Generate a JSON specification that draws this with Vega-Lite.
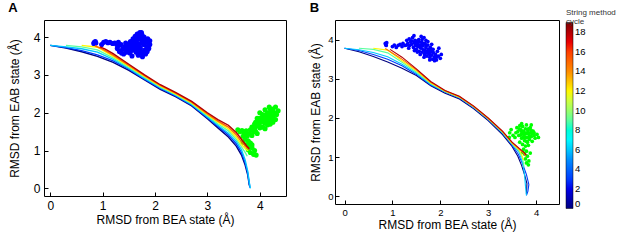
{
"$schema":"https://vega.github.io/schema/vega-lite/v6.json",
"padding":{"left":7,"top":1,"right":1,"bottom":2},
"config":{"font":"Liberation Sans","view":{"stroke":"#000","strokeWidth":1},
"axis":{"grid":false,"domain":false,"format":"~g","tickColor":"#000","tickSize":-4,"labelColor":"#000","titleColor":"#000","titleFontWeight":"normal","titleFontSize":12,"labelFontSize":12,"labelPadding":8},
"title":{"anchor":"start","fontSize":13,"fontWeight":"bold","offset":5,"frame":"bounds","color":"#000"},
"concat":{"spacing":22}},
"datasets":{
"linesA":[
{"c":0,"i":0,"x":0,"y":3.78},{"c":0,"i":1,"x":0.3,"y":3.71},{"c":0,"i":2,"x":0.6,"y":3.61},{"c":0,"i":3,"x":0.9,"y":3.49},{"c":0,"i":4,"x":1.2,"y":3.33},{"c":0,"i":5,"x":1.5,"y":3.12},{"c":0,"i":6,"x":1.8,"y":2.87},{"c":0,"i":7,"x":2.1,"y":2.62},{"c":0,"i":8,"x":2.4,"y":2.42},{"c":0,"i":9,"x":2.7,"y":2.18},{"c":0,"i":10,"x":3.0,"y":1.84},{"c":0,"i":11,"x":3.2,"y":1.6},{"c":0,"i":12,"x":3.4,"y":1.36},{"c":0,"i":13,"x":3.55,"y":1.12},{"c":0,"i":14,"x":3.65,"y":0.88},{"c":0,"i":15,"x":3.72,"y":0.62},{"c":0,"i":16,"x":3.77,"y":0.35},{"c":0,"i":17,"x":3.8,"y":0.08},
{"c":3,"i":0,"x":0,"y":3.78},{"c":3,"i":1,"x":0.3,"y":3.72},{"c":3,"i":2,"x":0.6,"y":3.64},{"c":3,"i":3,"x":0.9,"y":3.53},{"c":3,"i":4,"x":1.2,"y":3.37},{"c":3,"i":5,"x":1.5,"y":3.15},{"c":3,"i":6,"x":1.8,"y":2.89},{"c":3,"i":7,"x":2.1,"y":2.64},{"c":3,"i":8,"x":2.4,"y":2.44},{"c":3,"i":9,"x":2.7,"y":2.2},{"c":3,"i":10,"x":3.0,"y":1.87},{"c":3,"i":11,"x":3.2,"y":1.64},{"c":3,"i":12,"x":3.4,"y":1.41},{"c":3,"i":13,"x":3.55,"y":1.18},{"c":3,"i":14,"x":3.65,"y":0.95},{"c":3,"i":15,"x":3.72,"y":0.68},{"c":3,"i":16,"x":3.77,"y":0.4},{"c":3,"i":17,"x":3.8,"y":0.12},{"c":3,"i":18,"x":3.81,"y":0.02},
{"c":6,"i":0,"x":0,"y":3.78},{"c":6,"i":1,"x":0.3,"y":3.74},{"c":6,"i":2,"x":0.6,"y":3.69},{"c":6,"i":3,"x":0.9,"y":3.6},{"c":6,"i":4,"x":1.2,"y":3.41},{"c":6,"i":5,"x":1.5,"y":3.17},{"c":6,"i":6,"x":1.8,"y":2.91},{"c":6,"i":7,"x":2.1,"y":2.66},{"c":6,"i":8,"x":2.4,"y":2.46},{"c":6,"i":9,"x":2.7,"y":2.22},{"c":6,"i":10,"x":3.0,"y":1.89},{"c":6,"i":11,"x":3.2,"y":1.67},{"c":6,"i":12,"x":3.4,"y":1.46},{"c":6,"i":13,"x":3.55,"y":1.24},{"c":6,"i":14,"x":3.65,"y":1.02},{"c":6,"i":15,"x":3.72,"y":0.75},{"c":6,"i":16,"x":3.77,"y":0.45},{"c":6,"i":17,"x":3.8,"y":0.15},{"c":6,"i":18,"x":3.82,"y":0.0},
{"c":9,"i":0,"x":0.3,"y":3.78},{"c":9,"i":1,"x":0.6,"y":3.74},{"c":9,"i":2,"x":0.9,"y":3.66},{"c":9,"i":3,"x":1.2,"y":3.45},{"c":9,"i":4,"x":1.5,"y":3.2},{"c":9,"i":5,"x":1.8,"y":2.94},{"c":9,"i":6,"x":2.1,"y":2.68},{"c":9,"i":7,"x":2.4,"y":2.48},{"c":9,"i":8,"x":2.7,"y":2.24},{"c":9,"i":9,"x":3.0,"y":1.92},{"c":9,"i":10,"x":3.2,"y":1.71},{"c":9,"i":11,"x":3.4,"y":1.52},{"c":9,"i":12,"x":3.55,"y":1.3},{"c":9,"i":13,"x":3.65,"y":1.1},{"c":9,"i":14,"x":3.72,"y":0.95},{"c":9,"i":15,"x":3.76,"y":0.85},
{"c":12,"i":0,"x":0.6,"y":3.78},{"c":12,"i":1,"x":0.9,"y":3.73},{"c":12,"i":2,"x":1.2,"y":3.49},{"c":12,"i":3,"x":1.5,"y":3.23},{"c":12,"i":4,"x":1.8,"y":2.96},{"c":12,"i":5,"x":2.1,"y":2.7},{"c":12,"i":6,"x":2.4,"y":2.49},{"c":12,"i":7,"x":2.7,"y":2.26},{"c":12,"i":8,"x":3.0,"y":1.95},{"c":12,"i":9,"x":3.2,"y":1.75},{"c":12,"i":10,"x":3.4,"y":1.57},{"c":12,"i":11,"x":3.55,"y":1.36},{"c":12,"i":12,"x":3.65,"y":1.16},{"c":12,"i":13,"x":3.75,"y":1.02},{"c":12,"i":14,"x":3.78,"y":1.0},
{"c":15,"i":0,"x":0.85,"y":3.77},{"c":15,"i":1,"x":1.0,"y":3.68},{"c":15,"i":2,"x":1.2,"y":3.52},{"c":15,"i":3,"x":1.5,"y":3.25},{"c":15,"i":4,"x":1.8,"y":2.98},{"c":15,"i":5,"x":2.1,"y":2.72},{"c":15,"i":6,"x":2.4,"y":2.51},{"c":15,"i":7,"x":2.7,"y":2.28},{"c":15,"i":8,"x":3.0,"y":1.97},{"c":15,"i":9,"x":3.2,"y":1.78},{"c":15,"i":10,"x":3.4,"y":1.62},{"c":15,"i":11,"x":3.55,"y":1.42},{"c":15,"i":12,"x":3.65,"y":1.23},{"c":15,"i":13,"x":3.75,"y":1.08},{"c":15,"i":14,"x":3.8,"y":1.03},
{"c":18,"i":0,"x":0.95,"y":3.74},{"c":18,"i":1,"x":1.05,"y":3.68},{"c":18,"i":2,"x":1.2,"y":3.56},{"c":18,"i":3,"x":1.5,"y":3.28},{"c":18,"i":4,"x":1.8,"y":3.0},{"c":18,"i":5,"x":2.1,"y":2.74},{"c":18,"i":6,"x":2.4,"y":2.53},{"c":18,"i":7,"x":2.7,"y":2.3},{"c":18,"i":8,"x":3.0,"y":2.0},{"c":18,"i":9,"x":3.2,"y":1.82},{"c":18,"i":10,"x":3.4,"y":1.67},{"c":18,"i":11,"x":3.55,"y":1.48},{"c":18,"i":12,"x":3.65,"y":1.3},{"c":18,"i":13,"x":3.75,"y":1.12},{"c":18,"i":14,"x":3.8,"y":1.05}
],
"linesB":[
{"c":0,"i":0,"x":0,"y":3.78},{"c":0,"i":1,"x":0.3,"y":3.69},{"c":0,"i":2,"x":0.6,"y":3.57},{"c":0,"i":3,"x":0.9,"y":3.43},{"c":0,"i":4,"x":1.2,"y":3.27},{"c":0,"i":5,"x":1.5,"y":3.08},{"c":0,"i":6,"x":1.8,"y":2.82},{"c":0,"i":7,"x":2.1,"y":2.63},{"c":0,"i":8,"x":2.4,"y":2.48},{"c":0,"i":9,"x":2.7,"y":2.23},{"c":0,"i":10,"x":3.0,"y":1.93},{"c":0,"i":11,"x":3.3,"y":1.57},{"c":0,"i":12,"x":3.5,"y":1.27},{"c":0,"i":13,"x":3.62,"y":1.02},{"c":0,"i":14,"x":3.7,"y":0.78},{"c":0,"i":15,"x":3.76,"y":0.55},{"c":0,"i":16,"x":3.81,"y":0.32},{"c":0,"i":17,"x":3.8,"y":0.05},
{"c":3,"i":0,"x":0,"y":3.78},{"c":3,"i":1,"x":0.3,"y":3.72},{"c":3,"i":2,"x":0.6,"y":3.62},{"c":3,"i":3,"x":0.9,"y":3.5},{"c":3,"i":4,"x":1.2,"y":3.33},{"c":3,"i":5,"x":1.5,"y":3.11},{"c":3,"i":6,"x":1.8,"y":2.84},{"c":3,"i":7,"x":2.1,"y":2.66},{"c":3,"i":8,"x":2.4,"y":2.51},{"c":3,"i":9,"x":2.7,"y":2.26},{"c":3,"i":10,"x":3.0,"y":1.96},{"c":3,"i":11,"x":3.3,"y":1.61},{"c":3,"i":12,"x":3.5,"y":1.3},{"c":3,"i":13,"x":3.63,"y":1.07},{"c":3,"i":14,"x":3.72,"y":0.82},{"c":3,"i":15,"x":3.8,"y":0.55},{"c":3,"i":16,"x":3.85,"y":0.3},{"c":3,"i":17,"x":3.83,"y":0.12},{"c":3,"i":18,"x":3.8,"y":0.02},
{"c":6,"i":0,"x":0,"y":3.78},{"c":6,"i":1,"x":0.3,"y":3.74},{"c":6,"i":2,"x":0.6,"y":3.67},{"c":6,"i":3,"x":0.9,"y":3.56},{"c":6,"i":4,"x":1.2,"y":3.37},{"c":6,"i":5,"x":1.5,"y":3.14},{"c":6,"i":6,"x":1.8,"y":2.86},{"c":6,"i":7,"x":2.1,"y":2.67},{"c":6,"i":8,"x":2.4,"y":2.52},{"c":6,"i":9,"x":2.7,"y":2.27},{"c":6,"i":10,"x":3.0,"y":1.97},{"c":6,"i":11,"x":3.3,"y":1.62},{"c":6,"i":12,"x":3.5,"y":1.33},{"c":6,"i":13,"x":3.65,"y":1.11},{"c":6,"i":14,"x":3.72,"y":0.85},{"c":6,"i":15,"x":3.76,"y":0.55},{"c":6,"i":16,"x":3.78,"y":0.25},{"c":6,"i":17,"x":3.8,"y":0.02},
{"c":9,"i":0,"x":0.3,"y":3.78},{"c":9,"i":1,"x":0.6,"y":3.75},{"c":9,"i":2,"x":0.9,"y":3.66},{"c":9,"i":3,"x":1.2,"y":3.42},{"c":9,"i":4,"x":1.5,"y":3.17},{"c":9,"i":5,"x":1.8,"y":2.88},{"c":9,"i":6,"x":2.1,"y":2.68},{"c":9,"i":7,"x":2.4,"y":2.53},{"c":9,"i":8,"x":2.7,"y":2.28},{"c":9,"i":9,"x":3.0,"y":1.98},{"c":9,"i":10,"x":3.3,"y":1.63},{"c":9,"i":11,"x":3.5,"y":1.34},{"c":9,"i":12,"x":3.65,"y":1.15},{"c":9,"i":13,"x":3.72,"y":0.95},{"c":9,"i":14,"x":3.75,"y":0.75},
{"c":12,"i":0,"x":0.6,"y":3.78},{"c":12,"i":1,"x":0.9,"y":3.73},{"c":12,"i":2,"x":1.2,"y":3.46},{"c":12,"i":3,"x":1.5,"y":3.2},{"c":12,"i":4,"x":1.8,"y":2.89},{"c":12,"i":5,"x":2.1,"y":2.68},{"c":12,"i":6,"x":2.4,"y":2.53},{"c":12,"i":7,"x":2.7,"y":2.28},{"c":12,"i":8,"x":3.0,"y":1.98},{"c":12,"i":9,"x":3.3,"y":1.64},{"c":12,"i":10,"x":3.5,"y":1.35},{"c":12,"i":11,"x":3.65,"y":1.18},{"c":12,"i":12,"x":3.72,"y":1.0},{"c":12,"i":13,"x":3.74,"y":0.92},
{"c":15,"i":0,"x":0.85,"y":3.77},{"c":15,"i":1,"x":1.2,"y":3.5},{"c":15,"i":2,"x":1.5,"y":3.23},{"c":15,"i":3,"x":1.8,"y":2.91},{"c":15,"i":4,"x":2.1,"y":2.69},{"c":15,"i":5,"x":2.4,"y":2.54},{"c":15,"i":6,"x":2.7,"y":2.29},{"c":15,"i":7,"x":3.0,"y":1.99},{"c":15,"i":8,"x":3.3,"y":1.65},{"c":15,"i":9,"x":3.5,"y":1.37},{"c":15,"i":10,"x":3.65,"y":1.2},{"c":15,"i":11,"x":3.75,"y":1.08},{"c":15,"i":12,"x":3.78,"y":1.02},
{"c":18,"i":0,"x":0.95,"y":3.75},{"c":18,"i":1,"x":1.2,"y":3.55},{"c":18,"i":2,"x":1.5,"y":3.25},{"c":18,"i":3,"x":1.8,"y":2.93},{"c":18,"i":4,"x":2.1,"y":2.7},{"c":18,"i":5,"x":2.4,"y":2.55},{"c":18,"i":6,"x":2.7,"y":2.3},{"c":18,"i":7,"x":3.0,"y":2.0},{"c":18,"i":8,"x":3.3,"y":1.66},{"c":18,"i":9,"x":3.5,"y":1.38},{"c":18,"i":10,"x":3.65,"y":1.22},{"c":18,"i":11,"x":3.75,"y":1.12},{"c":18,"i":12,"x":3.8,"y":1.05}
],
"blueA":[
{"x":0.84,"y":3.86},{"x":0.87,"y":3.84},{"x":0.86,"y":3.88},{"x":0.83,"y":3.83},
{"x":0.98,"y":3.8},{"x":1.02,"y":3.86},{"x":1.06,"y":3.88},{"x":1.1,"y":3.85},{"x":1.14,"y":3.86},{"x":1.19,"y":3.83},{"x":1.23,"y":3.84},{"x":1.27,"y":3.8},{"x":1.31,"y":3.78},
{"x":1.28,"y":3.7},{"x":1.32,"y":3.62},{"x":1.36,"y":3.58},{"x":1.4,"y":3.55},{"x":1.45,"y":3.6},{"x":1.38,"y":3.68},{"x":1.42,"y":3.74},{"x":1.47,"y":3.66},{"x":1.5,"y":3.72},{"x":1.52,"y":3.58},{"x":1.55,"y":3.8},{"x":1.58,"y":3.66},{"x":1.6,"y":3.88},{"x":1.62,"y":3.75},{"x":1.64,"y":3.6},{"x":1.66,"y":3.95},{"x":1.68,"y":3.82},{"x":1.7,"y":4.05},{"x":1.71,"y":4.12},{"x":1.72,"y":3.7},{"x":1.74,"y":3.92},{"x":1.76,"y":3.55},{"x":1.78,"y":3.8},{"x":1.79,"y":4.0},{"x":1.8,"y":3.65},{"x":1.82,"y":3.88},{"x":1.84,"y":3.75},{"x":1.86,"y":3.95},{"x":1.87,"y":3.85},{"x":1.88,"y":3.7},{"x":1.76,"y":3.48},{"x":1.7,"y":3.62},{"x":1.65,"y":3.85},{"x":1.58,"y":3.95},{"x":1.53,"y":3.88},{"x":1.48,"y":3.8},{"x":1.44,"y":3.84},{"x":1.62,"y":4.02},{"x":1.75,"y":4.06},{"x":1.9,"y":3.8},{"x":1.85,"y":3.62},{"x":1.68,"y":3.52},{"x":1.56,"y":3.5},{"x":1.3,"y":3.86},{"x":1.35,"y":3.8},
{"x":1.45,"y":3.7},{"x":1.55,"y":3.65},{"x":1.6,"y":3.7},{"x":1.65,"y":3.68},{"x":1.7,"y":3.75},{"x":1.75,"y":3.85},{"x":1.8,"y":3.9},{"x":1.72,"y":3.98},{"x":1.68,"y":4.0},{"x":1.62,"y":3.8},{"x":1.56,"y":3.74},{"x":1.5,"y":3.64},{"x":1.85,"y":3.7},{"x":1.82,"y":3.55},{"x":1.78,"y":3.6},{"x":1.9,"y":3.9},{"x":1.66,"y":4.08},{"x":1.74,"y":4.12}
],
"greenA":[
{"x":4.3,"y":2.15},{"x":4.25,"y":2.1},{"x":4.22,"y":2.05},{"x":4.28,"y":2.0},{"x":4.2,"y":1.95},{"x":4.15,"y":2.0},{"x":4.1,"y":2.08},{"x":4.12,"y":1.9},{"x":4.18,"y":1.85},{"x":4.25,"y":1.9},{"x":4.05,"y":1.95},{"x":4.08,"y":1.82},{"x":4.0,"y":1.85},{"x":4.02,"y":1.75},{"x":3.98,"y":1.7},{"x":4.1,"y":1.72},{"x":4.15,"y":1.78},{"x":3.95,"y":1.65},{"x":3.92,"y":1.75},{"x":4.05,"y":1.62},{"x":3.9,"y":1.58},{"x":3.85,"y":1.62},{"x":3.88,"y":1.5},{"x":3.82,"y":1.55},{"x":3.8,"y":1.45},{"x":4.2,"y":1.7},{"x":4.3,"y":1.82},{"x":4.35,"y":2.05},{"x":4.0,"y":2.0},{"x":3.95,"y":1.85},
{"x":3.9,"y":1.7},{"x":4.0,"y":1.6},{"x":4.05,"y":1.8},{"x":4.12,"y":1.95},{"x":4.2,"y":2.1},{"x":4.18,"y":2.15},{"x":4.25,"y":1.75},{"x":4.15,"y":1.68},{"x":3.85,"y":1.4},{"x":3.95,"y":1.45},{"x":4.08,"y":1.88},{"x":4.22,"y":1.82},{"x":4.32,"y":1.95},{"x":3.98,"y":1.78},{"x":4.1,"y":1.58},{"x":3.92,"y":1.5},
{"x":3.58,"y":1.55},{"x":3.62,"y":1.5},{"x":3.66,"y":1.53},{"x":3.7,"y":1.48},{"x":3.74,"y":1.52},{"x":3.72,"y":1.42},{"x":3.68,"y":1.38},{"x":3.76,"y":1.38},
{"x":3.72,"y":1.3},{"x":3.78,"y":1.25},{"x":3.82,"y":1.2},{"x":3.75,"y":1.15},{"x":3.8,"y":1.1},{"x":3.85,"y":1.08},{"x":3.78,"y":1.02},{"x":3.9,"y":1.0},{"x":3.82,"y":0.95},{"x":3.88,"y":0.9},{"x":3.93,"y":0.88},{"x":3.85,"y":1.15},{"x":3.68,"y":1.22}
],
"blueB":[
{"x":0.85,"y":3.9},{"x":0.87,"y":3.85},{"x":0.88,"y":3.92},{"x":0.86,"y":3.87},
{"x":1.0,"y":3.82},{"x":1.04,"y":3.86},{"x":1.08,"y":3.8},{"x":1.12,"y":3.85},{"x":1.16,"y":3.88},{"x":1.2,"y":3.82},{"x":1.22,"y":3.9},{"x":1.26,"y":3.85},
{"x":1.3,"y":3.98},{"x":1.32,"y":3.9},{"x":1.35,"y":4.02},{"x":1.36,"y":3.85},{"x":1.38,"y":3.95},{"x":1.4,"y":3.88},{"x":1.42,"y":4.05},{"x":1.44,"y":3.8},{"x":1.45,"y":3.92},{"x":1.47,"y":3.98},{"x":1.48,"y":3.85},{"x":1.5,"y":3.75},{"x":1.52,"y":3.9},{"x":1.53,"y":3.82},{"x":1.55,"y":4.0},{"x":1.56,"y":3.7},{"x":1.58,"y":3.86},{"x":1.6,"y":3.78},{"x":1.61,"y":3.93},{"x":1.62,"y":3.68},{"x":1.64,"y":3.84},{"x":1.65,"y":3.74},{"x":1.66,"y":4.05},{"x":1.67,"y":3.62},{"x":1.68,"y":3.9},{"x":1.7,"y":3.8},{"x":1.71,"y":3.7},{"x":1.72,"y":3.58},{"x":1.74,"y":3.86},{"x":1.75,"y":3.75},{"x":1.76,"y":3.64},{"x":1.78,"y":3.55},{"x":1.79,"y":3.8},{"x":1.8,"y":3.7},{"x":1.82,"y":3.6},{"x":1.84,"y":3.5},{"x":1.85,"y":3.75},{"x":1.86,"y":3.66},{"x":1.88,"y":3.56},{"x":1.9,"y":3.62},{"x":1.92,"y":3.48},{"x":1.94,"y":3.7},{"x":1.96,"y":3.58},{"x":2.0,"y":3.52},{"x":1.58,"y":3.62},{"x":1.52,"y":3.68},{"x":1.46,"y":3.72},{"x":1.74,"y":3.95},{"x":1.82,"y":3.88},{"x":1.62,"y":4.0},{"x":1.7,"y":3.98},{"x":1.66,"y":3.55},{"x":1.78,"y":3.48},{"x":1.88,"y":3.46},{"x":2.02,"y":3.62},{"x":1.97,"y":3.78},{"x":1.3,"y":3.86},{"x":1.34,"y":3.78},{"x":1.4,"y":3.97},{"x":1.45,"y":4.1},{"x":1.6,"y":4.08},{"x":1.56,"y":3.94},{"x":1.64,"y":3.9},{"x":1.72,"y":3.66},{"x":1.8,"y":3.78},{"x":1.9,"y":3.52},{"x":1.5,"y":3.96},{"x":1.68,"y":3.72},
{"x":1.58,"y":3.8},{"x":1.62,"y":3.86},{"x":1.68,"y":3.66},{"x":1.76,"y":3.7},{"x":1.84,"y":3.68},{"x":1.92,"y":3.56},{"x":1.54,"y":3.86},{"x":1.48,"y":3.92},{"x":1.7,"y":3.86},{"x":1.78,"y":3.62}
],
"greenB":[
{"x":3.6,"y":1.75},{"x":3.62,"y":1.65},{"x":3.64,"y":1.55},{"x":3.66,"y":1.8},{"x":3.68,"y":1.7},{"x":3.7,"y":1.6},{"x":3.7,"y":1.48},{"x":3.72,"y":1.78},{"x":3.74,"y":1.66},{"x":3.75,"y":1.55},{"x":3.76,"y":1.42},{"x":3.78,"y":1.72},{"x":3.79,"y":1.6},{"x":3.8,"y":1.5},{"x":3.82,"y":1.38},{"x":3.83,"y":1.68},{"x":3.85,"y":1.58},{"x":3.86,"y":1.45},{"x":3.88,"y":1.75},{"x":3.88,"y":1.62},{"x":3.9,"y":1.52},{"x":3.92,"y":1.4},{"x":3.94,"y":1.66},{"x":3.96,"y":1.55},{"x":3.98,"y":1.48},{"x":4.02,"y":1.58},{"x":4.05,"y":1.5},{"x":3.58,"y":1.62},{"x":3.56,"y":1.5},{"x":3.66,"y":1.38},{"x":3.72,"y":1.32},{"x":3.78,"y":1.28},{"x":3.84,"y":1.3},{"x":3.8,"y":1.82},{"x":3.7,"y":1.85},{"x":3.9,"y":1.82},
{"x":3.45,"y":1.62},{"x":3.48,"y":1.7},{"x":3.52,"y":1.55},{"x":3.44,"y":1.5},
{"x":3.74,"y":1.2},{"x":3.8,"y":1.15},{"x":3.76,"y":1.08},{"x":3.82,"y":1.02},{"x":3.78,"y":0.95},{"x":3.85,"y":0.9},{"x":3.8,"y":0.85},{"x":3.88,"y":1.1},{"x":3.72,"y":1.12},{"x":3.84,"y":0.8},
{"x":3.65,"y":1.72},{"x":3.82,"y":1.62},{"x":3.9,"y":1.68},{"x":3.74,"y":1.5},{"x":3.86,"y":1.52},{"x":3.96,"y":1.62},{"x":3.7,"y":1.66},{"x":3.8,"y":1.4},{"x":3.76,"y":1.62},{"x":3.84,"y":1.72},{"x":3.68,"y":1.56},{"x":3.92,"y":1.6}
]
},
"hconcat":[
{"title":{"text":"A"},"width":242,"height":176,
"layer":[
{"data":{"name":"blueA"},"mark":{"type":"circle","color":"#0000FF","size":26,"opacity":1},
"encoding":{"x":{"field":"x","type":"quantitative","scale":{"domain":[-0.12,4.5],"nice":false,"zero":false},"axis":{"values":[0,1,2,3,4],"title":"RMSD from BEA state (Å)","titlePadding":3}},
"y":{"field":"y","type":"quantitative","scale":{"domain":[-0.2,4.45],"nice":false,"zero":false},"axis":{"values":[0,1,2,3,4],"title":"RMSD from EAB state (Å)","titlePadding":12}}}},
{"data":{"name":"greenA"},"mark":{"type":"circle","color":"#00FF00","size":26,"opacity":1},
"encoding":{"x":{"field":"x","type":"quantitative"},"y":{"field":"y","type":"quantitative"}}},
{"data":{"name":"linesA"},"mark":{"type":"line","strokeWidth":1.4},
"encoding":{"x":{"field":"x","type":"quantitative"},"y":{"field":"y","type":"quantitative"},
"color":{"field":"c","type":"quantitative","scale":{"domain":[0,19],"range":["#00007F","#0000FF","#007FFF","#00FFFF","#7FFF7F","#FFFF00","#FF7F00","#FF0000","#7F0000"]},
"legend":{"orient":"none","legendX":522,"legendY":-11,"direction":"vertical","title":["String method","cycle"],"values":[0,2,4,6,8,10,12,14,16,18],"gradientLength":186,"gradientThickness":7,"gradientStrokeColor":"#000","gradientStrokeWidth":0.5,"labelFontSize":9.5,"labelColor":"#000","labelOffset":2,"titleFontSize":8,"titleFontWeight":"normal","titleColor":"#333","titleAlign":"left","titleAnchor":"start","titleLineHeight":8.5,"titlePadding":-3}},
"detail":{"field":"c","type":"nominal"},"order":{"field":"i","type":"quantitative"}}}
]},
{"title":{"text":"B"},"width":224,"height":184,
"layer":[
{"data":{"name":"blueB"},"mark":{"type":"circle","color":"#0000FF","size":14,"opacity":1},
"encoding":{"x":{"field":"x","type":"quantitative","scale":{"domain":[-0.2,4.48],"nice":false,"zero":false},"axis":{"values":[0,1,2,3,4],"title":"RMSD from BEA state (Å)","labelFontSize":9.5,"labelPadding":7,"titlePadding":3}},
"y":{"field":"y","type":"quantitative","scale":{"domain":[-0.2,4.5],"nice":false,"zero":false},"axis":{"values":[0,0.5,1,1.5,2,2.5,3,3.5,4,4.5],"title":"RMSD from EAB state (Å)","labelFontSize":9.5,"labelPadding":6,"titlePadding":5}}}},
{"data":{"name":"greenB"},"mark":{"type":"circle","color":"#00FF00","size":14,"opacity":1},
"encoding":{"x":{"field":"x","type":"quantitative"},"y":{"field":"y","type":"quantitative"}}},
{"data":{"name":"linesB"},"mark":{"type":"line","strokeWidth":1.1},
"encoding":{"x":{"field":"x","type":"quantitative"},"y":{"field":"y","type":"quantitative"},
"color":{"field":"c","type":"quantitative"},
"detail":{"field":"c","type":"nominal"},"order":{"field":"i","type":"quantitative"}}}
]}
]
}
